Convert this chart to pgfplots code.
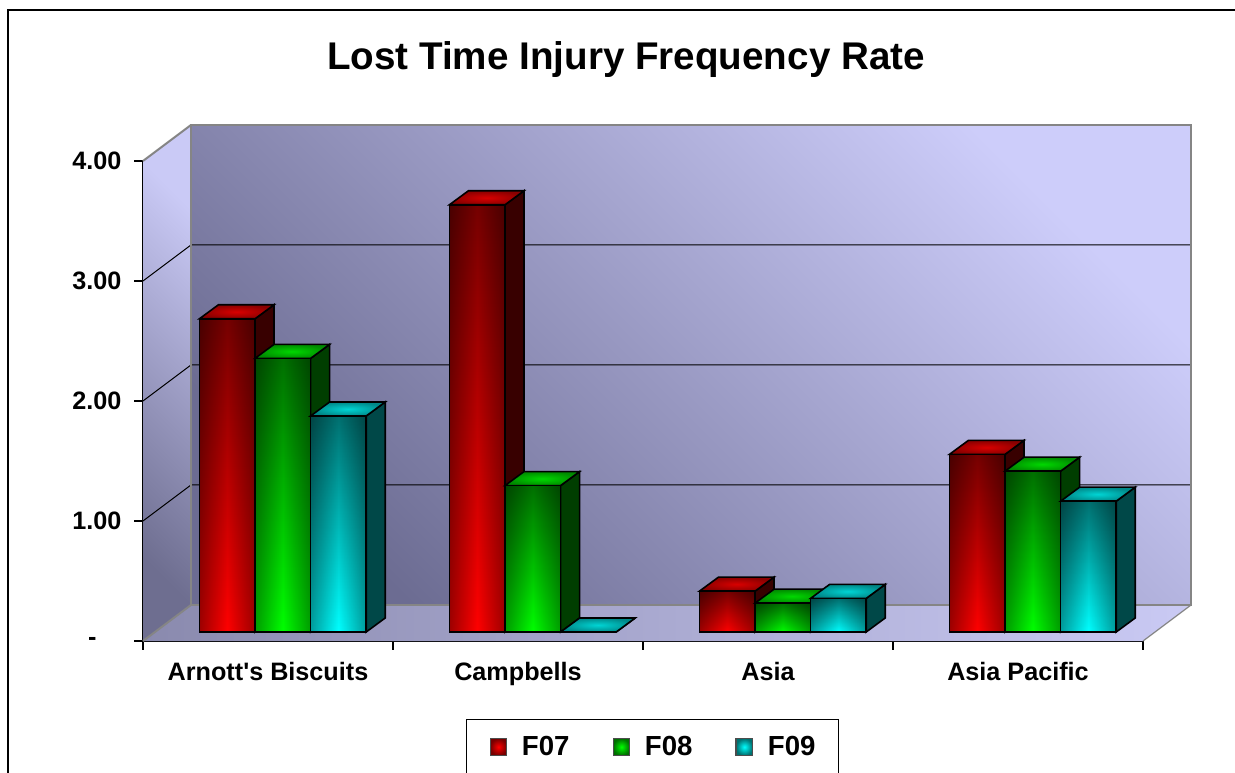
\documentclass[border=0pt]{standalone}
\usepackage{pgfplots}
\pgfplotsset{compat=1.18}
\usepackage{fontspec}
\setmainfont{Liberation Sans}

\definecolor{Rdark}{HTML}{760000}
\definecolor{Rmid}{HTML}{C40000}
\definecolor{Rbright}{HTML}{FF0000}
\definecolor{Rtopin}{HTML}{D80000}
\definecolor{Rtopout}{HTML}{8A0000}
\definecolor{Rside}{HTML}{380000}
\definecolor{Gdark}{HTML}{007000}
\definecolor{Gmid}{HTML}{00C000}
\definecolor{Gbright}{HTML}{00FF00}
\definecolor{Gtopin}{HTML}{00D800}
\definecolor{Gtopout}{HTML}{008A00}
\definecolor{Gside}{HTML}{003E00}
\definecolor{Cdark}{HTML}{007070}
\definecolor{Cmid}{HTML}{00C0C0}
\definecolor{Cbright}{HTML}{00FFFF}
\definecolor{Ctopin}{HTML}{00D4D4}
\definecolor{Ctopout}{HTML}{008888}
\definecolor{Cside}{HTML}{004848}
\definecolor{wallD}{HTML}{6C6C92}
\definecolor{wallL}{HTML}{CDCDFA}
\definecolor{lwallD}{HTML}{6E6E90}
\definecolor{lwallL}{HTML}{CACAF6}
\definecolor{floorD}{HTML}{8A8AAE}
\definecolor{floorL}{HTML}{CACAF4}
\definecolor{edgegray}{HTML}{858585}
\definecolor{edgeshade}{gray}{0.62}

% #1 x centre of the front face, #2 value, #3 colour prefix
\newcommand\barthree[3]{%
  \pgfmathsetmacro\xa{#1-0.1112}%
  \pgfmathsetmacro\xb{#1+0.1112}%
  \pgfmathsetmacro\xc{#1+0.1872}%
  \pgfmathsetmacro\xd{#1-0.0352}%
  \pgfmathsetmacro\yt{#2+0.1167}%
  \edef\tmp{%
    \noexpand\addplot[forget plot, draw=black, line width=0.8bp, fill=#3side]
      coordinates {(\xb,0) (\xc,0.1167) (\xc,\yt) (\xb,#2)} -- cycle;
    \noexpand\addplot[forget plot, draw=black, line width=0.8bp, inner color=#3topin, outer color=#3topout]
      coordinates {(\xa,#2) (\xb,#2) (\xc,\yt) (\xd,\yt)} -- cycle;
  }\tmp
  \ifdim #2pt>0.001pt
  \edef\tmp{%
    \noexpand\addplot[forget plot, draw=none, top color=#3dark, middle color=#3mid, bottom color=#3bright]
      coordinates {(\xa,0) (\xb,0) (\xb,#2) (\xa,#2)} -- cycle;
    \noexpand\addplot[forget plot, draw=none, blend mode=multiply, left color=edgeshade, right color=edgeshade, middle color=white]
      coordinates {(\xa,0) (\xb,0) (\xb,#2) (\xa,#2)} -- cycle;
    \noexpand\addplot[forget plot, draw=black, line width=0.8bp, fill=none]
      coordinates {(\xa,0) (\xb,0) (\xb,#2) (\xa,#2)} -- cycle;
  }\tmp
  \fi
}

\begin{document}
\begin{tikzpicture}
\useasboundingbox (0,0) rectangle (617.5bp,386.5bp);
\clip (0,0) rectangle (617.5bp,386.5bp);
\draw[line width=1bp] (4.15bp,-20bp) -- (4.15bp,381.65bp) -- (640bp,381.65bp);
\node[font=\bfseries\fontsize{19.3bp}{22bp}\selectfont, anchor=base, inner sep=0pt] at (313bp,351.85bp) {Lost Time Injury Frequency Rate};
\begin{axis}[
  at={(71.5bp,66bp)}, anchor=south west,
  scale only axis, width=500bp, height=240bp,
  xmin=-0.5592, xmax=3.4408, ymin=-0.075, ymax=3.925,
  clip=false,
  axis lines=left, axis line style={-, line width=0.6bp, black},
  tick align=outside, major tick length=4.4bp,
  tick style={black, line width=0.6bp},
  xtick={-0.5592,0.4408,1.4408,2.4408,3.4408},
  xticklabels={,,,,},
  extra x ticks={-0.0592,0.9408,1.9408,2.9408},
  extra x tick labels={Arnott\textquotesingle s Biscuits, Campbells, Asia, Asia Pacific},
  extra x tick style={tick style={draw=none}, xticklabel style={anchor=north, inner sep=0pt, yshift=-6bp}},
  ytick={-0.075,0.925,1.925,2.925,3.925},
  yticklabels={{-\kern12.5bp}, 1.00, 2.00, 3.00, 4.00},
  yticklabel style={anchor=east, inner sep=0pt, xshift=-6.2bp},
  ticklabel style={font=\bfseries\fontsize{12.6bp}{14bp}\selectfont},
  legend columns=3,
  legend style={at={(0.5095,-0.163)}, anchor=north, draw=black, line width=0.6bp, fill=white,
    inner xsep=11.5bp, inner ysep=8bp,
    font=\bfseries\fontsize{13.8bp}{15bp}\selectfont,
    nodes={inner sep=0pt},
    /tikz/every odd column/.style={column sep=7.3bp},
    /tikz/every even column/.style={column sep=21.5bp}},
]
% walls and floor
\addplot[forget plot, draw=none, bottom color=wallD, top color=wallL, shading angle=-45]
  coordinates {(-0.3672,0.225) (3.6328,0.225) (3.6328,4.225) (-0.3672,4.225)} -- cycle;
\addplot[forget plot, draw=none, bottom color=lwallD, top color=lwallL, shading angle=-45]
  coordinates {(-0.5592,-0.075) (-0.3672,0.225) (-0.3672,4.225) (-0.5592,3.925)} -- cycle;
\addplot[forget plot, draw=none, left color=floorD, right color=floorL]
  coordinates {(-0.5592,-0.075) (3.4408,-0.075) (3.6328,0.225) (-0.3672,0.225)} -- cycle;
% gridlines
\addplot[forget plot, black, line width=0.5bp] coordinates {(-0.5592,0.925) (-0.3672,1.225) (3.6328,1.225)};
\addplot[forget plot, black, line width=0.5bp] coordinates {(-0.5592,1.925) (-0.3672,2.225) (3.6328,2.225)};
\addplot[forget plot, black, line width=0.5bp] coordinates {(-0.5592,2.925) (-0.3672,3.225) (3.6328,3.225)};
% wall edges
\addplot[forget plot, edgegray, line width=1.1bp] coordinates {(-0.3672,0.225) (3.6328,0.225) (3.6328,4.225) (-0.3672,4.225)} -- cycle;
\addplot[forget plot, edgegray, line width=1bp] coordinates {(-0.5592,3.925) (-0.3672,4.225)};
\addplot[forget plot, edgegray, line width=1bp] coordinates {(-0.5592,-0.075) (-0.3672,0.225)};
\addplot[forget plot, edgegray, line width=0.6bp] coordinates {(3.4408,-0.075) (3.6328,0.225)};
% bars: Arnott's Biscuits
\barthree{-0.2224}{2.61}{R}
\barthree{0}{2.28}{G}
\barthree{0.2224}{1.80}{C}
% Campbells
\barthree{0.7776}{3.56}{R}
\barthree{1}{1.22}{G}
\barthree{1.2224}{0}{C}
% Asia
\barthree{1.7776}{0.34}{R}
\barthree{2}{0.24}{G}
\barthree{2.2224}{0.28}{C}
% Asia Pacific
\barthree{2.7776}{1.48}{R}
\barthree{3}{1.34}{G}
\barthree{3.2224}{1.09}{C}
% legend
\addlegendimage{legend image code/.code={\draw[line width=0.6bp, draw=black!70, inner color=Rbright, outer color=Rdark] (0bp,-4.15bp) rectangle (8.3bp,4.15bp);}}
\addlegendentry{F07}
\addlegendimage{legend image code/.code={\draw[line width=0.6bp, draw=black!70, inner color=Gbright, outer color=Gdark] (0bp,-4.15bp) rectangle (8.3bp,4.15bp);}}
\addlegendentry{F08}
\addlegendimage{legend image code/.code={\draw[line width=0.6bp, draw=black!70, inner color=Cbright, outer color=Cdark] (0bp,-4.15bp) rectangle (8.3bp,4.15bp);}}
\addlegendentry{F09}
\end{axis}
\end{tikzpicture}
\end{document}
